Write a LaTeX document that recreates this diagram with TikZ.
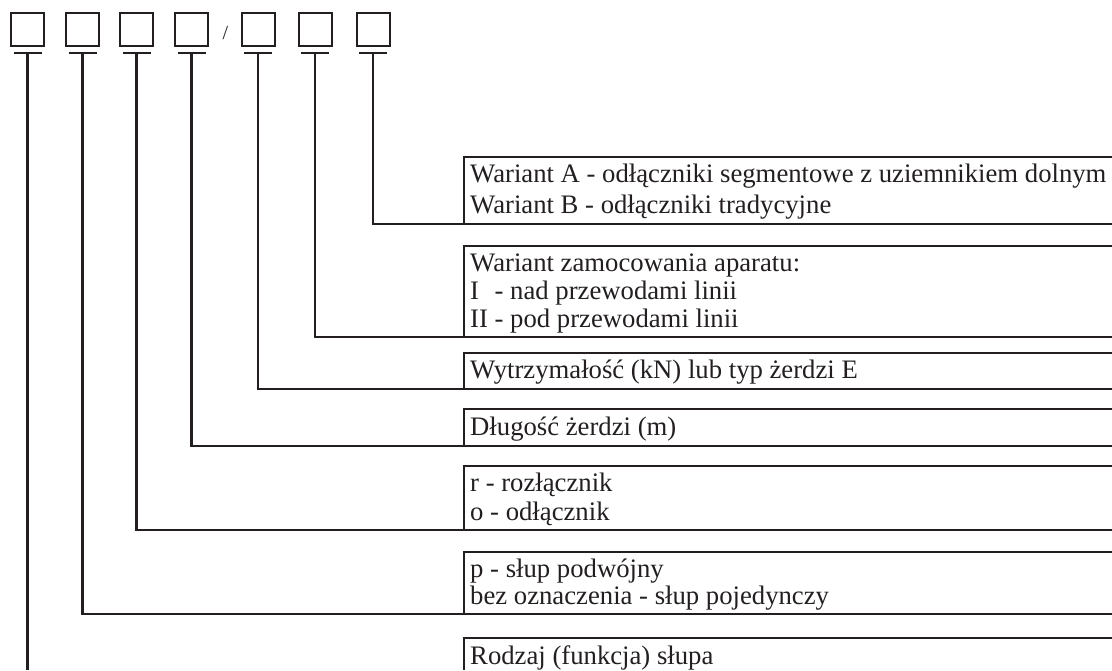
\documentclass[tikz,border=0pt]{standalone}
\usepackage{fontspec}
\setmainfont{Liberation Serif}
\definecolor{ink}{RGB}{35,31,32}
\tikzset{
  sq/.style={draw=ink, line width=2pt, minimum size=33pt, inner sep=0pt},
  ln/.style={draw=ink, line width=2.2pt},
  lbl/.style={anchor=base west, inner sep=0pt, text=ink, font=\fontsize{26.7pt}{29pt}\selectfont},
  slashtxt/.style={anchor=base, inner sep=0pt, text=ink, font=\fontsize{20pt}{24pt}\selectfont},
}
\begin{document}
\begin{tikzpicture}[x=1pt,y=-1pt]
\useasboundingbox (0,0) rectangle (1112,670);
% code boxes with T-bars
\foreach \i/\x in {1/27.5,2/82.5,3/136.5,4/191.5,5/258,6/315,7/373} {
  \node[sq] (b\i) at (\x,29) {};
  \coordinate (tb\i) at (\x,53.3);
  \draw[ln, line width=2pt] ([xshift=-14pt]tb\i) -- ([xshift=14pt]tb\i);
}
\node[slashtxt] (sl) at (225.5,39) {/};

% label brackets: index / stem / top / bottom
\foreach \k/\s/\t/\b in {1/7/157/224, 2/6/246/337, 3/5/353/389, 4/4/409/446, 5/3/466/530, 6/2/552/614} {
  \coordinate (tl\k) at (464,\t);
  \coordinate (tr\k) at (1112,\t);
  \coordinate (bl\k) at (464,\b);
  \coordinate (br\k) at (1112,\b);
  \draw[ln] (tr\k) -- (tl\k) -- (bl\k);
  \draw[ln, line join=miter] (tb\s) |- (br\k);
}
% last bracket runs off the bottom edge
\coordinate (tl7) at (464,638);
\coordinate (tr7) at (1112,638);
\coordinate (bl7) at (464,670);
\coordinate (end1) at (27.5,670);
\draw[ln] (tr7) -- (tl7) -- (bl7);
\draw[ln] (tb1) -- (end1);

% texts
\node[lbl] (t1a) at (470,182) {Wariant A - odłączniki segmentowe z uziemnikiem dolnym};
\node[lbl] (t1b) at (470,213) {Wariant B - odłączniki tradycyjne};
\node[lbl] (t2a) at (470,271) {Wariant zamocowania aparatu:};
\node[lbl] (t2b) at (470,299) {I\hphantom{I} - nad przewodami linii};
\node[lbl] (t2c) at (470,327) {II - pod przewodami linii};
\node[lbl] (t3) at (470,378.5) {Wytrzymałość (kN) lub typ żerdzi E};
\node[lbl] (t4) at (470,435) {Długość żerdzi (m)};
\node[lbl] (t5a) at (470,491) {r - rozłącznik};
\node[lbl] (t5b) at (470,520) {o - odłącznik};
\node[lbl] (t6a) at (470,577) {p - słup podwójny};
\node[lbl] (t6b) at (470,604) {bez oznaczenia - słup pojedynczy};
\node[lbl] (t7) at (470,664) {Rodzaj (funkcja) słupa};
\end{tikzpicture}
\end{document}
